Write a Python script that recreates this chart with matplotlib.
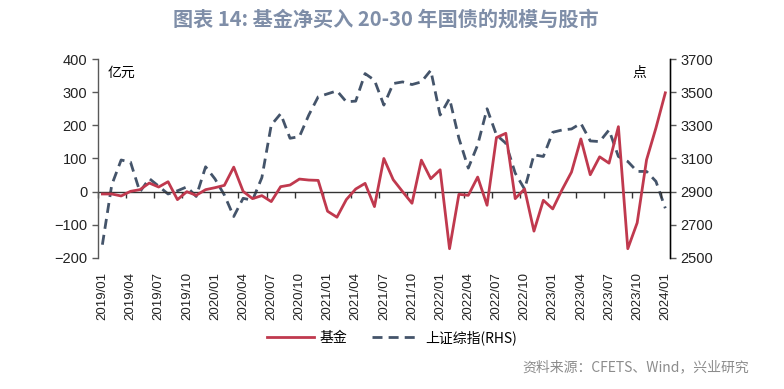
import numpy as np
import matplotlib
matplotlib.use('Agg')
import matplotlib.pyplot as plt

plt.rcParams['font.family'] = ['Liberation Sans', 'Noto Sans CJK SC', 'DejaVu Sans']

# monthly data, 2019/01 - 2024/01
months = ['%d/%02d' % (2019 + i // 12, i % 12 + 1) for i in range(61)]

# net purchase of 20-30y government bonds by funds (100m yuan)
fund = [-7, -7, -13, 1, 6, 26, 14, 30, -24, 0, -11, 6, 12, 19, 74, 1,
        -21, -12, -30, 15, 20, 38, 35, 34, -59, -77, -24, 8, 25, -45, 100,
        36, 0, -35, 95, 39, 66, -172, -8, -11, 44, -41, 163, 176, -21, 8,
        -119, -26, -52, 6, 59, 159, 51, 105, 86, 196, -172, -94, 96, 192, 298]

# SSE composite index (RHS)
sse = [2580, 2941, 3091, 3078, 2899, 2979, 2933, 2886, 2905, 2929, 2871, 3050,
       2977, 2880, 2750, 2860, 2848, 2985, 3302, 3370, 3222, 3232, 3362, 3472,
       3490, 3508, 3442, 3446, 3612, 3572, 3422, 3552, 3562, 3546, 3562, 3632,
       3362, 3462, 3222, 3042, 3182, 3400, 3242, 3192, 3012, 2915, 3122, 3112,
       3258, 3272, 3278, 3312, 3206, 3202, 3272, 3112, 3082, 3022, 3022, 2962, 2800]

red = '#c0394e'
navy = '#44546a'
grey = '#595959'

x = np.arange(len(months))

fig = plt.figure(figsize=(7.84, 3.89), dpi=100)
ax = fig.add_axes([0.1246, 0.3368, 0.73, 0.5115])
ax2 = ax.twinx()

ax.plot(x, fund, color=red, lw=2.0, zorder=3, label='基金')
ax2.plot(x, sse, color=navy, lw=2.0, dashes=(3.6, 2.2), zorder=2, label='上证综指(RHS)')
ax.set_zorder(ax2.get_zorder() + 1)
ax.patch.set_visible(False)

ax.set_xlim(-0.5, len(months) - 0.5)
ax.set_ylim(-200, 400)
ax.set_yticks(range(-200, 401, 100))
ax2.set_ylim(2500, 3700)
ax2.set_yticks(range(2500, 3701, 200))

ax.set_xticks(x[::3])
ax.set_xticklabels(months[::3], rotation=90, fontsize=9.5, color='#222222')
ax.tick_params(axis='x', length=0, pad=10)
ax.tick_params(axis='y', labelsize=10.5, colors='#222222', length=4, width=1, color=grey)
ax2.tick_params(axis='y', labelsize=10.5, colors='#222222', length=4, width=1, color=grey)

for a in (ax, ax2):
    a.spines['top'].set_visible(False)
    a.spines['bottom'].set_visible(False)
ax.spines['left'].set_color(grey)
ax2.spines['right'].set_color(grey)
ax2.spines['left'].set_visible(False)
for a in (ax, ax2):
    a.spines['left'].set_linewidth(1)
    a.spines['right'].set_linewidth(1)

# zero line with category tick marks
zero = ax.secondary_xaxis(200 / 600)
zero.set_xticks(np.arange(-0.5, len(months), 3))
zero.set_xticklabels([])
zero.tick_params(length=4, width=1, color='#333333', direction='out')
zero.spines['bottom'].set_color('#333333')
zero.spines['bottom'].set_linewidth(1)

ax.text(0.018, 0.932, '亿元', transform=ax.transAxes, fontsize=10,
        family=['Noto Sans CJK SC'], va='center')
ax.text(0.934, 0.932, '点', transform=ax.transAxes, fontsize=10,
        family=['Noto Sans CJK SC'], va='center')

fig.text(0.492, 0.951, '图表 14: 基金净买入 20-30 年国债的规模与股市', ha='center', va='center',
         fontsize=14.5, fontweight='bold', color='#7f8ea8',
         family=['Noto Sans CJK SC', 'DejaVu Sans'])

h1, l1 = ax.get_legend_handles_labels()
h2, l2 = ax2.get_legend_handles_labels()
fig.legend(h1 + h2, l1 + l2, loc='center', bbox_to_anchor=(0.5, 0.132), ncol=2,
           frameon=False, handlelength=3.4, handletextpad=0.4, columnspacing=1.8,
           prop={'family': ['Noto Sans CJK SC', 'DejaVu Sans'], 'size': 10})

fig.text(0.955, 0.057, '资料来源：CFETS、Wind，兴业研究', ha='right', va='center',
         fontsize=10, color='#8c8c8c', family=['Noto Sans CJK SC', 'DejaVu Sans'])

fig.savefig('out.png', dpi=100)
